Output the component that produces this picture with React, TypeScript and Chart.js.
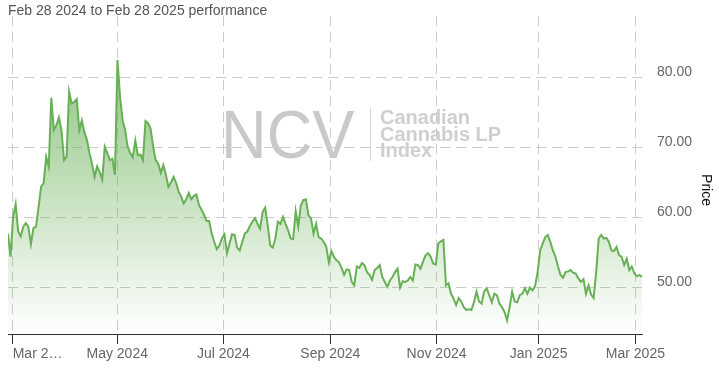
import React, { useEffect, useRef } from 'react';
import { Chart, registerables } from 'chart.js';

Chart.register(...registerables);

const subtitleText = 'Feb 28 2024 to Feb 28 2025 performance';
const yAxisTitle = 'Price';
const watermarkMain = 'NCV';
const watermarkLines = ['Canadian', 'Cannabis LP', 'Index'];

// Daily closing values (trading days), Feb 28 2024 -> Feb 28 2025
const priceSpring = [
  57.7, 54.4, 60.1, 61.9, 58.0, 57.3, 58.7, 59.2, 58.7, 56.2, 58.5, 58.7, 61.5, 64.4, 64.9,
  68.7, 67.3, 77.1, 72.5, 73.2, 74.3, 72.5, 68.2, 68.7, 78.0, 76.3, 76.5, 76.9, 72.5, 73.9,
  72.2, 71.1, 69.2, 67.7, 65.8, 67.3, 66.5, 65.4, 70.1, 69.2, 68.2, 68.4, 66.1,
];
const priceMayJun = [
  82.5, 77.3, 73.9, 72.5, 70.1, 69.2, 68.6, 71.0, 68.9, 69.0, 68.2, 73.8, 73.5, 72.7, 70.1,
  68.2, 67.7, 66.4, 67.5, 66.1, 64.4, 65.0, 65.8, 65.0, 63.7, 63.0, 62.0, 62.6, 63.5, 62.6,
  63.1, 63.3, 61.8, 61.1, 60.4, 59.5, 59.5, 57.7, 56.5, 55.5, 56.0, 57.0, 57.6, 54.9,
];
const priceJulAug = [
  56.3, 57.6, 57.5, 55.7, 55.3, 56.5, 57.7, 58.0, 58.8, 59.4, 59.9, 59.1, 58.4, 60.8, 61.4,
  58.9, 56.0, 55.7, 57.0, 59.4, 59.1, 60.1, 59.1, 58.2, 57.0, 56.9, 60.9, 58.7, 61.7, 62.5,
  62.6, 60.3, 59.9, 57.7, 59.1, 57.2, 57.0, 56.5, 55.8, 53.6, 55.2, 54.4, 53.9,
];
const priceSepOct = [
  53.6, 52.8, 51.8, 52.6, 52.5, 50.8, 50.3, 53.0, 52.8, 53.5, 53.2, 52.2, 51.8, 51.1, 52.5,
  52.8, 53.2, 51.5, 50.8, 50.1, 51.0, 51.5, 52.2, 52.7, 50.0, 50.9, 50.8, 51.0, 51.5, 51.0,
  53.3, 53.2, 52.7, 53.7, 54.6, 54.9, 54.4, 53.4, 53.3, 56.3, 56.6, 56.8, 50.3,
];
const priceNovDec = [
  50.6, 49.1, 48.4, 47.5, 48.5, 48.0, 47.2, 46.8, 46.9, 46.8, 47.9, 49.4, 48.0, 47.7, 49.4,
  49.9, 48.9, 47.9, 49.1, 48.9, 47.7, 47.2, 46.5, 45.3, 47.2, 49.4, 48.0, 47.9, 48.9, 49.1,
  49.9, 49.1, 50.0, 49.6, 50.2, 52.2, 55.3, 56.3, 57.2, 57.5, 56.5, 55.3, 54.4,
];
const priceJanFeb = [
  53.0, 51.8, 51.4, 52.2, 52.3, 52.5, 52.1, 52.0, 51.3, 50.8, 51.2, 49.1, 50.3, 49.0, 48.5,
  52.2, 57.0, 57.5, 57.0, 57.1, 56.5, 55.3, 55.2, 55.8, 54.6, 54.4, 53.2, 54.1, 52.5, 53.0,
  52.0, 51.6, 51.8, 51.5,
];
const priceValues = [
  ...priceSpring, ...priceMayJun, ...priceJulAug, ...priceSepOct, ...priceNovDec, ...priceJanFeb,
];

// Month-start positions on the trading-day axis and their labels
const monthTickIndex = [1.69, 42.9, 84.6, 126.6, 168.3, 208.4, 246.4];
const monthTickLabels = ['Mar 2…', 'May 2024', 'Jul 2024', 'Sep 2024', 'Nov 2024', 'Jan 2025', 'Mar 2025'];
const priceTickValues = [50, 60, 70, 80];
const priceMin = 43.36;
const priceMax = 88.79;

const FONT = '"Liberation Sans", Arial, Helvetica, sans-serif';

const overlayPlugin = {
  id: 'overlay',
  beforeDraw(chart: any) {
    const ctx = chart.ctx as CanvasRenderingContext2D;
    ctx.save();
    ctx.fillStyle = '#c9c9c9';
    ctx.textBaseline = 'alphabetic';
    ctx.textAlign = 'left';
    ctx.save();
    ctx.translate(221, 158);
    ctx.scale(0.93, 1);
    ctx.font = `68px ${FONT}`;
    ctx.fillText(watermarkMain, 0, 0);
    ctx.restore();
    ctx.strokeStyle = '#d6d6d6';
    ctx.lineWidth = 1;
    ctx.beginPath();
    ctx.moveTo(370.5, 108);
    ctx.lineTo(370.5, 161);
    ctx.stroke();
    ctx.fillStyle = '#cfcfcf';
    ctx.font = `bold 20px ${FONT}`;
    watermarkLines.forEach((t, i) => ctx.fillText(t, 380, 124 + i * 16.5));
    ctx.restore();
  },
  afterDraw(chart: any) {
    const ctx = chart.ctx as CanvasRenderingContext2D;
    ctx.save();
    ctx.font = `14px ${FONT}`;
    ctx.fillStyle = '#555555';
    ctx.textAlign = 'left';
    ctx.textBaseline = 'alphabetic';
    ctx.fillText(subtitleText, 8, 15);
    ctx.translate(706, 190);
    ctx.rotate(Math.PI / 2);
    ctx.fillStyle = '#111111';
    ctx.textAlign = 'center';
    ctx.textBaseline = 'middle';
    ctx.fillText(yAxisTitle, 0, 0);
    ctx.restore();
  },
};

export default function App() {
  const canvasRef = useRef<HTMLCanvasElement | null>(null);

  useEffect(() => {
    const canvas = canvasRef.current;
    if (!canvas) return;
    Chart.defaults.font.family = FONT;
    Chart.defaults.font.size = 14;
    Chart.defaults.color = '#666666';

    const chart = new Chart(canvas, {
      type: 'line',
      data: {
        datasets: [
          {
            data: priceValues.map((v, i) => ({ x: i, y: v })),
            borderColor: 'rgb(104,176,86)',
            borderWidth: 2,
            pointRadius: 0,
            tension: 0,
            fill: 'start',
            backgroundColor: (c: any) => {
              const { chart: ch } = c;
              const area = ch.chartArea;
              if (!area) return 'rgba(104,176,86,0.3)';
              const g = ch.ctx.createLinearGradient(0, area.top, 0, area.bottom);
              g.addColorStop(0, 'rgba(104,176,86,0.85)');
              g.addColorStop(1, 'rgba(104,176,86,0)');
              return g;
            },
          },
        ],
      },
      options: {
        responsive: false,
        animation: false,
        devicePixelRatio: 1,
        layout: { padding: { top: 16, left: 8, right: 0, bottom: 0 } },
        plugins: {
          legend: { display: false },
          tooltip: { enabled: false },
          title: { display: false },
        },
        scales: {
          x: {
            type: 'linear',
            min: 0,
            max: priceValues.length - 1,
            afterBuildTicks: (s: any) => {
              s.ticks = monthTickIndex.map((v) => ({ value: v }));
            },
            afterFit: (s: any) => {
              s.height = 38;
              s.paddingLeft = 0;
              s.paddingRight = 0;
            },
            grid: {
              color: '#cccccc',
              lineWidth: 1,
              drawTicks: true,
              tickLength: 10,
              tickColor: '#333333',
              tickWidth: 1,
              tickBorderDash: [],
            },
            border: { display: true, color: '#333333', width: 1, dash: [10, 6] },
            ticks: {
              autoSkip: false,
              maxRotation: 0,
              minRotation: 0,
              padding: 1.5,
              color: '#666666',
              font: { size: 14, family: FONT },
              callback: (_v: any, i: number) =>
                i === 0 ? ' '.repeat(13) + monthTickLabels[0] : monthTickLabels[i],
            },
          },
          y: {
            type: 'linear',
            position: 'right',
            min: priceMin,
            max: priceMax,
            afterBuildTicks: (s: any) => {
              s.ticks = priceTickValues.map((v) => ({ value: v }));
            },
            afterFit: (s: any) => {
              s.width = 77;
              s.paddingTop = 0;
              s.paddingBottom = 0;
            },
            grid: { color: '#cccccc', lineWidth: 1, drawTicks: false },
            border: { display: false, dash: [10, 6] },
            ticks: {
              padding: 15,
              labelOffset: -5,
              color: '#666666',
              font: { size: 14, family: FONT },
              callback: (v: any) => Number(v).toFixed(2),
            },
          },
        },
      },
      plugins: [overlayPlugin],
    });

    return () => chart.destroy();
  }, []);

  return (
    <div style={{ position: 'absolute', left: 0, top: 0, width: 719, height: 372, background: '#ffffff' }}>
      <canvas ref={canvasRef} width={719} height={372} style={{ display: 'block', width: 719, height: 372 }} />
    </div>
  );
}
